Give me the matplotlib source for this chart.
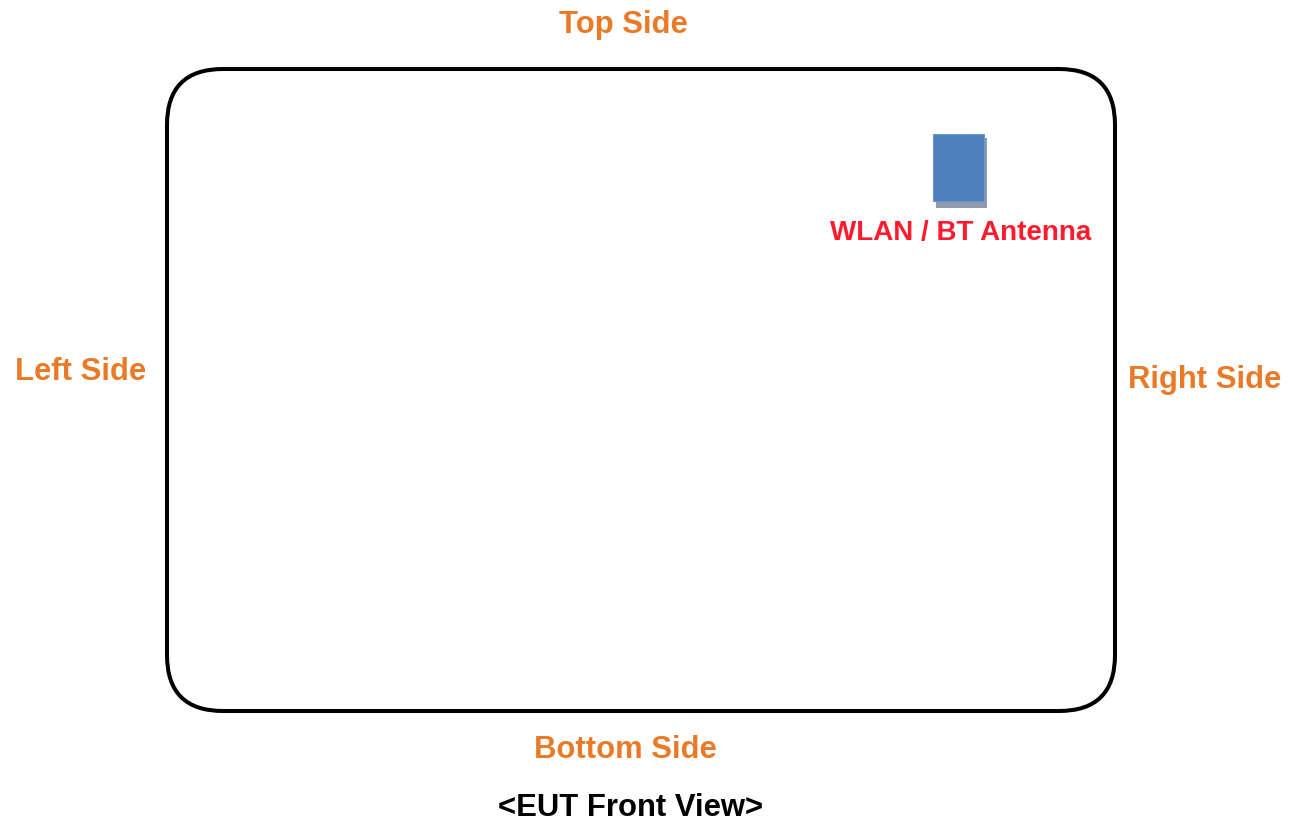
import matplotlib
matplotlib.use("Agg")
import matplotlib.pyplot as plt
from matplotlib.patches import FancyBboxPatch, Rectangle

plt.rcParams['font.family'] = ['Liberation Sans', 'DejaVu Sans']

side_labels = ["Top Side", "Left Side", "Right Side", "Bottom Side"]
side_xy = [(623, 33), (81, 380), (1205, 388), (625, 758)]
antenna_label = "WLAN / BT Antenna"
caption = "<EUT Front View>"

ORANGE = "#E97A28"
RED = "#FF1A2E"

fig = plt.figure(figsize=(12.9, 8.24), dpi=100)
ax = fig.add_axes([0, 0, 1, 1])
ax.set_xlim(0, 1290)
ax.set_ylim(824, 0)
ax.axis('off')

# device outline
box = FancyBboxPatch((167, 69), 948, 642,
                     boxstyle="round,pad=0,rounding_size=56",
                     fill=False, edgecolor='black', linewidth=2.9)
ax.add_patch(box)

# antenna with shadow
ax.add_patch(Rectangle((936, 138), 51, 70, facecolor="#8E9BAE", edgecolor='none'))
ax.add_patch(Rectangle((933, 134), 51, 67, facecolor="#4F80BC", edgecolor="#6F96C8", linewidth=0.8))

for lab, (x, y) in zip(side_labels, side_xy):
    ax.text(x, y, lab, color=ORANGE, fontsize=22.3, fontweight='bold',
            ha='center', va='baseline')

ax.text(961, 240, antenna_label, color=RED, fontsize=20, fontweight='bold',
        ha='center', va='baseline')
ax.text(631, 816, caption, color='black', fontsize=22.3, fontweight='bold',
        ha='center', va='baseline')

fig.savefig("out.png", dpi=100)
